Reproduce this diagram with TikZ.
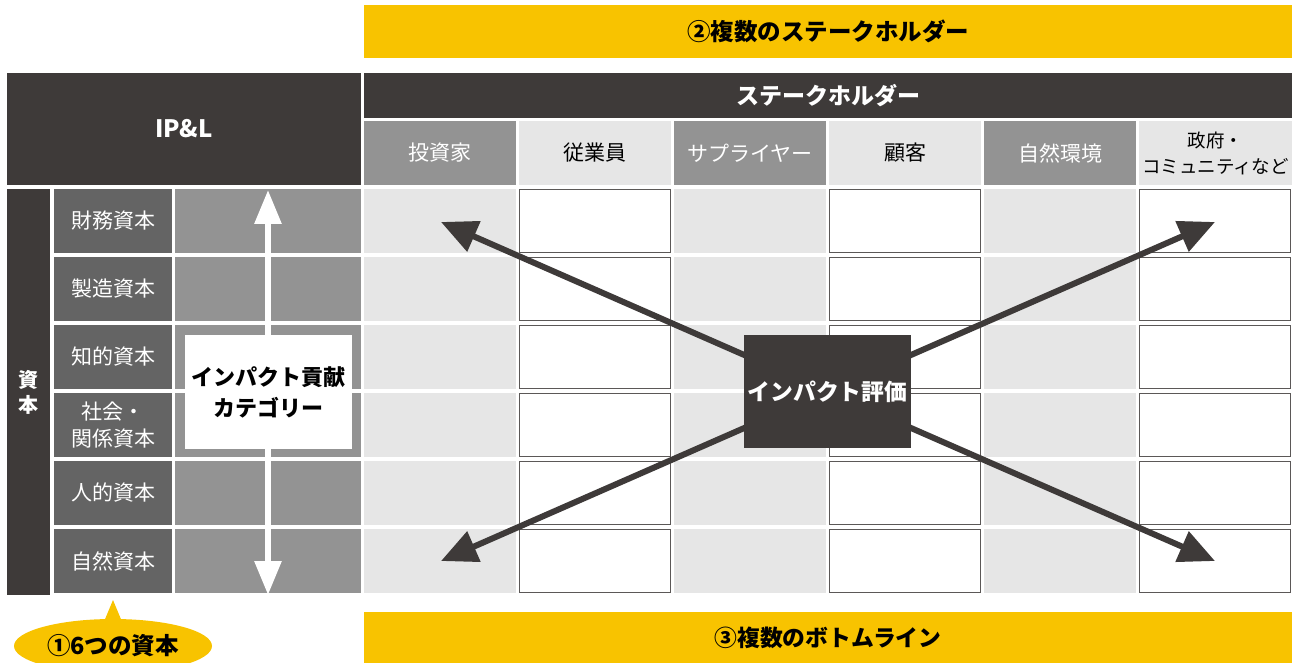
\documentclass[tikz,border=0pt]{standalone}
\usepackage{fontspec}
\setmainfont{Noto Sans CJK JP}
\usetikzlibrary{arrows.meta,shapes.geometric}
\definecolor{dk}{HTML}{3E3A39}
\definecolor{md}{HTML}{646464}
\definecolor{gy}{HTML}{939393}
\definecolor{lt}{HTML}{E6E6E6}
\definecolor{yl}{HTML}{F8C300}
\newcommand{\fsz}[1]{\fontsize{#1}{#1}\selectfont}
\begin{document}
\begin{tikzpicture}[x=1pt,y=-1pt,
  box/.style={anchor=north west, inner sep=0pt, outer sep=0pt, draw=none, align=center},
  hdrtxt/.style={font=\fsz{21}},
  boldtxt/.style={font=\bfseries\fsz{22.8}},
  bigarrow/.style={draw=dk, line width=6pt, -{Triangle[length=36pt,width=32pt]}},
  vertarrow/.style={draw=white, line width=6pt, {Triangle[length=34pt,width=26pt]}-{Triangle[length=34pt,width=26pt]}}
]
\useasboundingbox (0,0) rectangle (1294,663);
% top bar
\node[box, fill=yl, minimum width=928pt, minimum height=53pt, font=\bfseries\fsz{23.5}] (multsh) at (364,5) {②複数のステークホルダー};
% IP&L header
\node[box, fill=dk, minimum width=354pt, minimum height=112pt, text=white, font=\bfseries\fsz{24}] (ipl) at (7,73) {IP\&L};
\node[box, fill=dk, minimum width=928pt, minimum height=45pt, text=white, font=\bfseries\fsz{23}] (shbar) at (364,73) {ステークホルダー};
% stakeholder header cells
\node[box, fill=gy, minimum width=152pt, minimum height=64pt, hdrtxt, text=white] (h1) at (364,121) {投資家};
\node[box, fill=lt, minimum width=152pt, minimum height=64pt, hdrtxt] (h2) at (519,121) {従業員};
\node[box, fill=gy, minimum width=152pt, minimum height=64pt, hdrtxt, text=white] (h3) at (674,121) {サプライヤー};
\node[box, fill=lt, minimum width=152pt, minimum height=64pt, hdrtxt] (h4) at (829,121) {顧客};
\node[box, fill=gy, minimum width=152pt, minimum height=64pt, hdrtxt, text=white] (h5) at (984,121) {自然環境};
\node[box, fill=lt, minimum width=153pt, minimum height=64pt, font=\fontsize{18.5}{26}\selectfont] (h6) at (1139,121) {政府・\\コミュニティなど};
% capital bar
\node[box, fill=dk, minimum width=43pt, minimum height=406pt, text=white, font=\bfseries\fontsize{20}{25}\selectfont] (capbar) at (7,189) {資\\本};
% capital rows
\foreach \i/\t in {0/財務資本,1/製造資本,2/知的資本,3/{社会・\\関係資本},4/人的資本,5/自然資本}{
  \pgfmathsetmacro{\yy}{189+68*\i}
  \node[box, fill=md, minimum width=118pt, minimum height=64pt, text=white, font=\fontsize{21}{27}\selectfont] (cap\i) at (54,\yy) {\t};
  \node[box, fill=gy, minimum width=186pt, minimum height=64pt] (ip\i) at (175,\yy) {};
  \node[box, fill=lt, minimum width=152pt, minimum height=64pt] (c\i a) at (364,\yy) {};
  \node[box, fill=white, draw=dk!85, line width=0.8pt, minimum width=151pt, minimum height=63pt] (c\i b) at (519.5,\yy+0.5) {};
  \node[box, fill=lt, minimum width=152pt, minimum height=64pt] (c\i c) at (674,\yy) {};
  \node[box, fill=white, draw=dk!85, line width=0.8pt, minimum width=151pt, minimum height=63pt] (c\i d) at (829.5,\yy+0.5) {};
  \node[box, fill=lt, minimum width=152pt, minimum height=64pt] (c\i e) at (984,\yy) {};
  \node[box, fill=white, draw=dk!85, line width=0.8pt, minimum width=151pt, minimum height=63pt] (c\i f) at (1139.5,\yy+0.5) {};
}
% white vertical arrow
\coordinate (vtop) at (268,190);
\coordinate (vbot) at (268,595);
\draw[vertarrow] (vtop) -- (vbot);
\node[box, fill=white, minimum width=167pt, minimum height=114pt, font=\bfseries\fontsize{22}{31}\selectfont] (cat) at (185,335) {インパクト貢献\\カテゴリー};
% diagonal arrows
\coordinate (evc) at (827.5,391.5);
\coordinate (tl) at (441,222);
\coordinate (tr) at (1215,222);
\coordinate (bl) at (441,561);
\coordinate (br) at (1215,561);
\draw[bigarrow] (evc) -- (tl);
\draw[bigarrow] (evc) -- (tr);
\draw[bigarrow] (evc) -- (bl);
\draw[bigarrow] (evc) -- (br);
\node[fill=dk, inner sep=0pt, minimum width=167pt, minimum height=113pt, text=white, boldtxt] (eval) at (evc) {インパクト評価};
% bottom bar
\node[box, fill=yl, minimum width=928pt, minimum height=51pt, boldtxt] (bottom) at (364,612) {③複数のボトムライン};
% callout
\node[ellipse, fill=yl, inner sep=0pt, minimum width=198pt, minimum height=54pt, font=\bfseries\fsz{23.5}] (six) at (113,646) {\raisebox{2pt}{①6つの資本}};
\coordinate (ptip) at (113,600);
\fill[yl] (ptip) -- (103,624) -- (123,624) -- cycle;
\end{tikzpicture}
\end{document}
